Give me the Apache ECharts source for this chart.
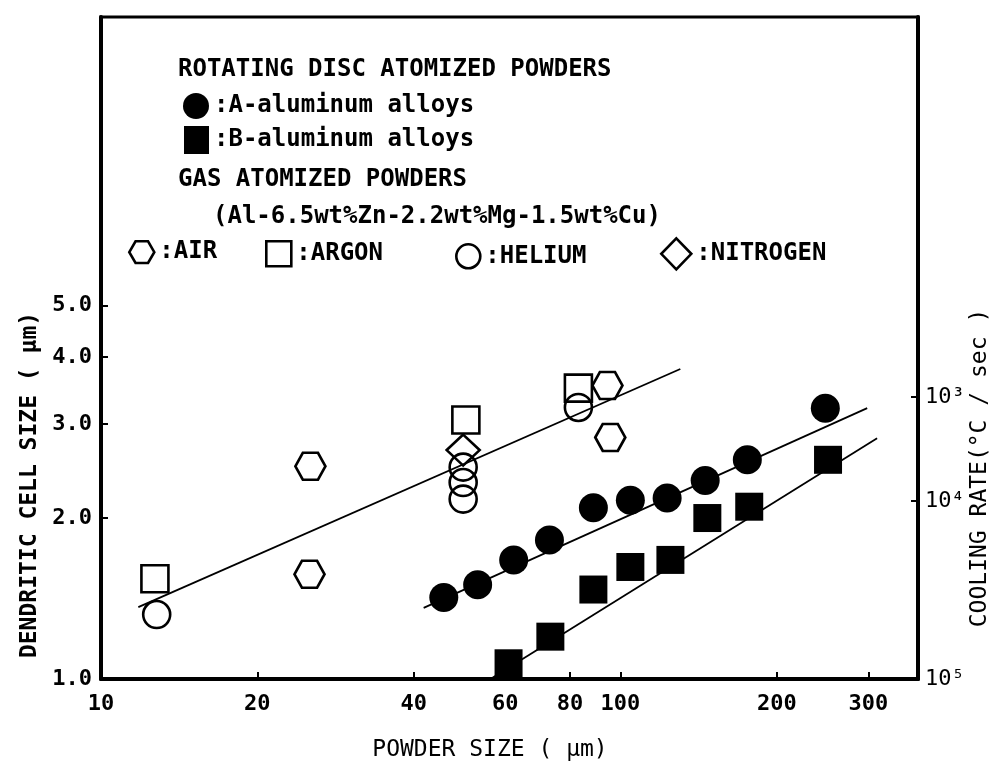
<!DOCTYPE html>
<html><head><meta charset="utf-8">
<script src="https://cdn.jsdelivr.net/npm/echarts@6/dist/echarts.min.js"></script>
<style>html,body{margin:0;padding:0;background:#fff}#c{width:999px;height:772px}</style>
</head><body><div id="c"></div>
<script>
// ---- axis ranges & ticks ----
const xRange = [10, 374];
const yRange = [1, 17.3];
const xTicks = [10, 20, 40, 60, 80, 100, 200, 300];
const yTicks = [1, 2, 3, 4, 5];
const rateTickPos = [1.0, 2.15, 3.37];
const rateTickLabels = ['10\u2075', '10\u2074', '10\u00b3'];

// ---- data: [powder size (um), dendritic cell size (um)] ----
const seriesA = [[45.7,1.42],[53.1,1.50],[62.3,1.67],[73.0,1.82],[88.7,2.09],[104.5,2.16],[123,2.18],[145.6,2.35],[175.5,2.57],[248,3.21]];
const seriesB = [[60.9,1.07],[73.3,1.20],[88.7,1.47],[104.5,1.62],[124.8,1.67],[147,2.00],[177,2.10],[251,2.57]];
const gasAir = [[25.3,2.50],[25.2,1.57],[94.4,3.54],[95.6,2.83]];
const gasArgon = [[12.7,1.54],[50.4,3.05],[83,3.50]];
const gasHelium = [[12.8,1.32],[49.8,2.49],[49.8,2.33],[49.8,2.17],[83,3.22]];
const gasNitrogen = [[49.8,2.68]];
const fitGas = [[11.8,1.363],[130.4,3.80]];
const fitA = [[41.8,1.358],[298.6,3.21]];
const fitB = [[56.2,1.0],[312,2.82]];

const FONT = 'DejaVu Sans Mono';
const hexPath = 'path://M-10,0 L-5,-8.66 L5,-8.66 L10,0 L5,8.66 L-5,8.66 Z';
const openStyle = {color: 'rgba(0,0,0,0)', borderColor: '#000', borderWidth: 2.6, opacity: 1};
const fillStyle = {color: '#000', borderWidth: 0, opacity: 1};
const lg = Math.log10;

function mkLegend(name, icon, left, top, w, h, style) {
  return {
    data: [{name: name, icon: icon}], left: left, top: top, padding: 0,
    itemWidth: w, itemHeight: h, itemGap: 0,
    itemStyle: style,
    formatter: n => ':' + n,
    textStyle: {fontFamily: FONT, fontSize: 24, fontWeight: 'bold', color: '#000'},
    inactiveColor: '#999'
  };
}

const chart = echarts.init(document.getElementById('c'), null, {renderer: 'canvas'});
const axisLabelFont = {fontFamily: FONT, fontSize: 22, fontWeight: 'bold', color: '#000'};
const gfont = 'bold 24px "DejaVu Sans Mono"';

chart.setOption({
  animation: false,
  backgroundColor: '#fff',
  grid: {left: 101, right: 81, top: 17, bottom: 93, show: true, borderColor: '#000', borderWidth: 3, backgroundColor: 'transparent'},
  xAxis: [
    {type: 'log', logBase: 10, min: xRange[0], max: xRange[1], position: 'bottom',
     axisLine: {show: true, lineStyle: {color: '#000', width: 4}},
     axisTick: {show: false}, axisLabel: {show: false}, splitLine: {show: false}},
    {type: 'value', min: lg(xRange[0]), max: lg(xRange[1]), position: 'bottom',
     axisLine: {show: false},
     axisTick: {show: true, inside: true, length: 7, lineStyle: {color: '#000', width: 2}, customValues: xTicks.map(lg)},
     axisLabel: {show: true, margin: 14, customValues: xTicks.map(lg), formatter: v => String(Math.round(Math.pow(10, v))), ...axisLabelFont},
     splitLine: {show: false}}
  ],
  yAxis: [
    {type: 'log', logBase: 10, min: yRange[0], max: yRange[1], position: 'left',
     axisLine: {show: true, lineStyle: {color: '#000', width: 4}},
     axisTick: {show: false}, axisLabel: {show: false}, splitLine: {show: false}},
    {type: 'value', min: lg(yRange[0]), max: lg(yRange[1]), position: 'left',
     axisLine: {show: false},
     axisTick: {show: true, inside: true, length: 7, lineStyle: {color: '#000', width: 2}, customValues: yTicks.map(lg)},
     axisLabel: {show: true, margin: 9, customValues: yTicks.map(lg), formatter: v => Math.pow(10, v).toFixed(1), ...axisLabelFont},
     splitLine: {show: false}},
    {type: 'value', min: lg(yRange[0]), max: lg(yRange[1]), position: 'right',
     axisLine: {show: true, lineStyle: {color: '#000', width: 4}},
     axisTick: {show: true, inside: true, length: 7, lineStyle: {color: '#000', width: 2}, customValues: rateTickPos.map(lg)},
     axisLabel: {show: true, margin: 7, customValues: rateTickPos.map(lg),
       formatter: v => {
         let best = 0, d = 1e9;
         rateTickPos.forEach((p, i) => { const dd = Math.abs(lg(p) - v); if (dd < d) { d = dd; best = i; } });
         return rateTickLabels[best];
       }, ...axisLabelFont, fontWeight: 'normal'},
     splitLine: {show: false}}
  ],
  legend: [
    mkLegend('A-aluminum alloys', 'circle', 183, 93, 26, 26, fillStyle),
    mkLegend('B-aluminum alloys', 'rect', 184, 126, 25, 28, fillStyle),
    mkLegend('AIR', hexPath, 128, 240, 25, 24, openStyle),
    mkLegend('ARGON', 'rect', 265, 240, 25, 25, openStyle),
    mkLegend('HELIUM', 'circle', 455, 243, 24, 24, openStyle),
    mkLegend('NITROGEN', 'diamond', 660, 237, 30, 31, openStyle)
  ],
  graphic: [
    {type: 'text', x: 178, y: 70, style: {text: 'ROTATING DISC ATOMIZED POWDERS', fill: '#000', font: gfont, align: 'left', verticalAlign: 'middle'}},
    {type: 'text', x: 178, y: 180, style: {text: 'GAS ATOMIZED POWDERS', fill: '#000', font: gfont, align: 'left', verticalAlign: 'middle'}},
    {type: 'text', x: 213, y: 217, style: {text: '(Al-6.5wt%Zn-2.2wt%Mg-1.5wt%Cu)', fill: '#000', font: gfont, align: 'left', verticalAlign: 'middle'}},
    {type: 'text', x: 30, y: 485, rotation: Math.PI / 2, style: {text: 'DENDRITIC CELL SIZE ( \u03bcm)', fill: '#000', font: 'bold 23px "DejaVu Sans Mono"', align: 'center', verticalAlign: 'middle'}},
    {type: 'text', x: 980, y: 468, rotation: Math.PI / 2, style: {text: 'COOLING RATE(\u00b0C / sec )', fill: '#000', font: '23px "DejaVu Sans Mono"', align: 'center', verticalAlign: 'middle'}},
    {type: 'text', x: 490, y: 750, style: {text: 'POWDER SIZE ( \u03bcm)', fill: '#000', font: '23px "DejaVu Sans Mono"', align: 'center', verticalAlign: 'middle'}}
  ],
  series: [
    {name: 'fitGas', type: 'line', data: fitGas, symbol: 'none', lineStyle: {color: '#000', width: 1.8}, silent: true, z: 1},
    {name: 'fitA', type: 'line', data: fitA, symbol: 'none', lineStyle: {color: '#000', width: 1.8}, silent: true, z: 1},
    {name: 'fitB', type: 'line', data: fitB, symbol: 'none', lineStyle: {color: '#000', width: 1.8}, silent: true, z: 1},
    {name: 'A-aluminum alloys', type: 'scatter', data: seriesA, symbol: 'circle', symbolSize: 29, itemStyle: fillStyle, z: 3},
    {name: 'B-aluminum alloys', type: 'scatter', data: seriesB, symbol: 'rect', symbolSize: 28, itemStyle: fillStyle, z: 3},
    {name: 'AIR', type: 'scatter', data: gasAir, symbol: hexPath, symbolSize: [30, 27], itemStyle: openStyle, z: 3},
    {name: 'ARGON', type: 'scatter', data: gasArgon, symbol: 'rect', symbolSize: 27, itemStyle: openStyle, z: 3},
    {name: 'HELIUM', type: 'scatter', data: gasHelium, symbol: 'circle', symbolSize: 27, itemStyle: openStyle, z: 3},
    {name: 'NITROGEN', type: 'scatter', data: gasNitrogen, symbol: 'diamond', symbolSize: [33, 31], itemStyle: openStyle, z: 3}
  ]
});
</script></body></html>
